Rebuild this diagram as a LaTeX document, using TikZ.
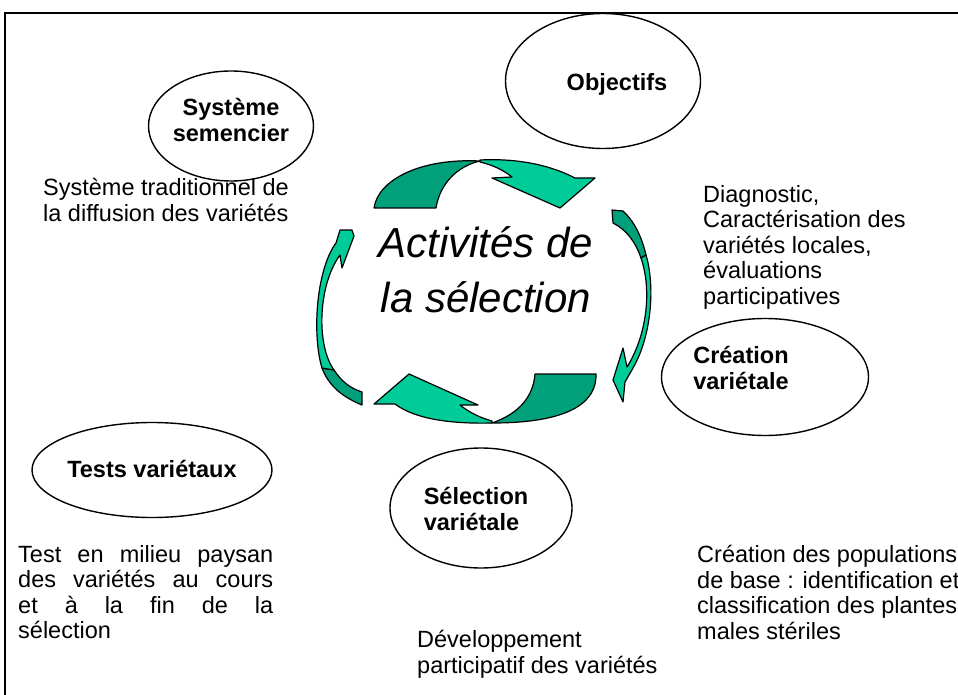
\documentclass[tikz,border=0pt]{standalone}
\usepackage{fontspec}
\setmainfont{Liberation Sans}
\usetikzlibrary{shapes.geometric}
\definecolor{gdark}{RGB}{0,160,122}
\definecolor{glight}{RGB}{0,204,153}
\begin{document}
\begin{tikzpicture}[x=1pt,y=-1pt,
  bubble/.style={draw, line width=1.4pt, ellipse, inner sep=0pt},
  lbl/.style={inner sep=0pt, font=\fontsize{23.5}{25.5}\selectfont\bfseries, align=center},
  body/.style={inner sep=0pt, anchor=north west, align=left, font=\fontsize{23.5}{25.5}\selectfont},
  darkpart/.style={fill=gdark, draw=black, line width=1.2pt, line join=round},
  lightpart/.style={fill=glight, draw=black, line width=1.2pt, line join=round}]
\useasboundingbox (0,0) rectangle (958,695);
\fill[white] (0,0) rectangle (958,695);
\draw[line width=2pt] (5,700) -- (5,13) -- (965,13);

% ellipses
\node[bubble, minimum width=195pt, minimum height=135pt] (obj) at (603,81) {};
\node[bubble, minimum width=165pt, minimum height=110pt] (sem) at (231,126) {};
\node[bubble, minimum width=207pt, minimum height=117pt] (cre) at (765,377) {};
\node[bubble, minimum width=240pt, minimum height=95pt] (tst) at (152,470) {};
\node[bubble, minimum width=182pt, minimum height=120pt] (sel) at (481,508) {};

% ellipse labels
\node[lbl] (objl) at (617,84) {Objectifs};
\node[lbl] (seml) at (231,120) {Système\\semencier};
\node[lbl, align=left] (crel) at (741,368) {Création\\variétale};
\node[lbl] (tstl) at (152,469) {Tests variétaux};
\node[lbl, align=left] (sell) at (476,509) {Sélection\\variétale};

% title
\node[font=\fontsize{42}{55}\selectfont\itshape, align=center, inner sep=0pt] (title) at (486,270) {Activités de\\la sélection};

% descriptions
\node[body] (semtxt) at (43,178) {Système traditionnel de\\la diffusion des variétés};
\node[body] (objtxt) at (703,185) {Diagnostic,\\Caractérisation des\\variétés locales,\\évaluations\\participatives};
\node[body] (cretxt) at (697,545) {Création des populations\\de base : identification et\\classification des plantes\\males stériles};
\node[body] (tsttxt) at (18,545) {\makebox[255pt][s]{Test en milieu paysan}\\\makebox[255pt][s]{des variétés au cours}\\\makebox[255pt][s]{et à la fin de la}\\sélection};
\node[body] (seltxt) at (417,630) {Développement\\participatif des variétés};

% top arrow
\draw[darkpart] (374,208) .. controls (378,180) and (420,158) .. (480,161) .. controls (458,166) and (440,183) .. (436,208) -- cycle;
\draw[lightpart] (480,160) .. controls (520,158) and (552,166) .. (575,178) -- (595,178) -- (560,208) -- (492,178) -- (512,177) .. controls (503,170) and (493,165) .. (480,162) -- cycle;

% bottom arrow
\draw[darkpart] (535,374) -- (596,374) .. controls (597,402) and (570,423) .. (492,423) .. controls (515,415) and (533,400) .. (535,374) -- cycle;
\draw[lightpart] (374,404) -- (409,374) -- (478,405) -- (460,405) .. controls (470,413) and (481,418) .. (492,421) -- (492,423) .. controls (450,424) and (415,419) .. (395,404) -- cycle;

% right arrow
\draw[darkpart] (612,210) -- (623,211) .. controls (635,222) and (642,238) .. (646,255) -- (641,258) .. controls (636,243) and (627,230) .. (613,223) -- cycle;
\draw[lightpart] (646,255) .. controls (655,285) and (652,335) .. (633,368) -- (625,382) -- (623,402) -- (613,380) -- (623,348) -- (627,367) .. controls (647,335) and (652,290) .. (641,258) -- cycle;

% left arrow
\draw[darkpart] (362,405) .. controls (340,396) and (328,384) .. (322,368) -- (334,370) .. controls (342,382) and (350,388) .. (362,392) -- cycle;
\draw[lightpart] (322,368) .. controls (312,335) and (316,270) .. (336,243) -- (340,230) -- (352,230) -- (354,236) -- (342,268) -- (340,255) .. controls (318,285) and (316,345) .. (334,370) -- cycle;
\end{tikzpicture}
\end{document}
